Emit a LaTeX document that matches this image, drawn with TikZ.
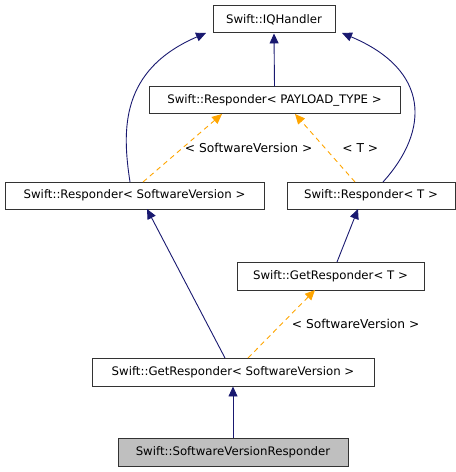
\documentclass[tikz,border=0pt]{standalone}
\usepackage{fontspec}
\setmainfont{DejaVu Sans}
\usetikzlibrary{arrows.meta}
\definecolor{edgeblue}{HTML}{191970}
\definecolor{edgeorange}{HTML}{FFA500}
\definecolor{boxgray}{HTML}{BFBFBF}
\tikzset{
  cls/.style={draw=black!80, line width=1pt, fill=white, inner sep=0pt, font=\fontsize{11.8}{13}\selectfont},
  inh/.style={draw=edgeblue, line width=0.9pt, -{Triangle[length=10pt,width=9pt]}},
  tmpl/.style={draw=edgeorange, line width=0.9pt, dashed, dash pattern=on 5pt off 4pt, -{Triangle[length=10pt,width=9pt]}},
  lbl/.style={font=\fontsize{12.3}{13}\selectfont, text=black, anchor=west, inner sep=0pt}
}
\begin{document}
\begin{tikzpicture}[x=1bp,y=-1bp]
\useasboundingbox (0,0) rectangle (456,472);
\node[cls, minimum width=122bp, minimum height=27bp] (iq) at (274,19.5) {Swift::IQHandler};
\node[cls, minimum width=251bp, minimum height=27bp] (rp) at (274.5,100.5) {Swift::Responder< PAYLOAD\_TYPE >};
\node[cls, minimum width=259bp, minimum height=27bp] (rsv) at (134.5,195.5) {Swift::Responder< SoftwareVersion >};
\node[cls, minimum width=168bp, minimum height=27bp] (rt) at (371,195.5) {Swift::Responder< T >};
\node[cls, minimum width=187bp, minimum height=28bp] (grt) at (330.5,276) {Swift::GetResponder< T >};
\node[cls, minimum width=282bp, minimum height=28bp] (grsv) at (233,372) {Swift::GetResponder< SoftwareVersion >};
\node[cls, fill=boxgray, minimum width=230bp, minimum height=28bp] (swvr) at (233,452) {Swift::SoftwareVersionResponder};

\coordinate (iqL) at (206,33);
\coordinate (iqR) at (342,33);
\draw[inh] (rp.north) -- (iq.south);
\draw[inh] (130,182) .. controls (122,130) and (120,70) .. (iqL);
\draw[inh] (383,182) .. controls (430,130) and (430,70) .. (iqR);
\draw[tmpl] (143,182) -- node[lbl, pos=0.5, xshift=2bp] {< SoftwareVersion >} (222,114);
\draw[tmpl] (355,182) -- node[lbl, pos=0.5, xshift=17bp] {< T >} (295,114);
\draw[inh] (225,358) -- (147,209);
\draw[inh] (337,262) -- (358,209);
\draw[tmpl] (248,358) -- node[lbl, pos=0.5, xshift=10bp] {< SoftwareVersion >} (315,290);
\draw[inh] (swvr.north) -- (grsv.south);
\end{tikzpicture}
\end{document}
